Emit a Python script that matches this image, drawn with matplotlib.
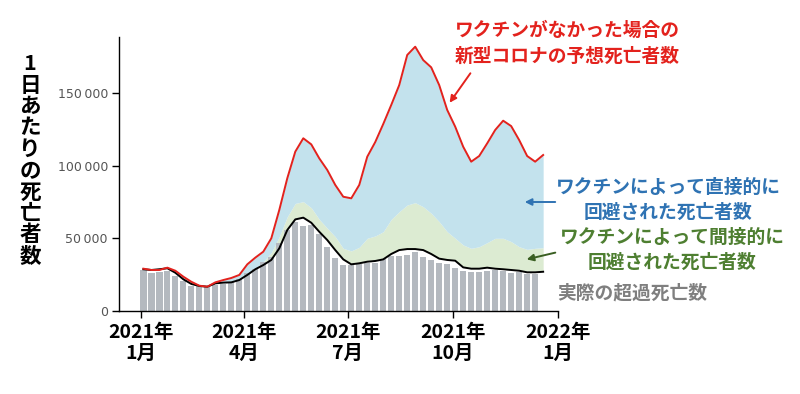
import numpy as np
import pandas as pd
import matplotlib
matplotlib.use("Agg")
import matplotlib.pyplot as plt
import matplotlib.dates as mdates

plt.rcParams['font.family'] = ['Noto Sans CJK JP', 'DejaVu Sans']

# weekly actual excess deaths (bars)
excess_bars = [28200, 26300, 27000, 27700, 24000, 20600, 17400, 17200, 16700, 17900,
               18300, 20100, 21800, 26300, 28700, 33900, 37300, 46500, 55700, 61400,
               58700, 59100, 53000, 44200, 36200, 31600, 31600, 32100, 33200, 33200,
               35500, 38000, 38000, 38500, 40800, 37300, 35100, 33200, 32100, 29800,
               27700, 27000, 27000, 27700, 28200, 27700, 26300, 27000, 25400, 25200]

# smoothed actual excess deaths (black line)
actual_line = [28700, 28200, 28700, 29400, 26300, 21800, 18600, 17200, 16700, 19000,
               19500, 19700, 21300, 24800, 28700, 31600, 35100, 43100, 55700, 63000,
               64200, 60700, 54500, 48800, 41900, 35500, 32100, 32800, 33900, 34400,
               35500, 39200, 41900, 42600, 42600, 41900, 39200, 36000, 35100, 34600,
               30000, 29100, 29100, 29800, 29100, 28700, 28200, 27700, 26600, 26600, 27000]

# actual + indirectly averted (top of green area)
indirect_top = [28700, 28200, 28700, 29400, 26300, 21800, 18600, 17200, 16700, 19000,
                19500, 19700, 21300, 25500, 29400, 33900, 40100, 51100, 64800, 74000,
                75200, 71000, 63000, 56900, 51100, 43100, 41300, 43800, 50000, 51600,
                54500, 63000, 68300, 72900, 74500, 71700, 67200, 61400, 54500, 50000,
                45400, 43100, 44200, 47000, 50000, 50000, 47700, 44200, 42400, 43100, 43500]

# expected deaths without vaccine (red line)
no_vaccine = [29100, 28200, 28200, 29800, 27700, 23600, 20100, 17400, 16700, 19700,
              21300, 22700, 24800, 32100, 36700, 40800, 50000, 69500, 91300, 109600,
              118800, 114600, 105000, 97000, 86700, 78600, 77500, 86700, 106100, 116200,
              128600, 141700, 155400, 176100, 181800, 172600, 167600, 155400, 138300, 126800,
              113000, 102700, 106600, 115300, 124500, 130900, 127200, 117600, 106600, 102700, 107300]

weeks = pd.date_range('2021-01-03', periods=len(no_vaccine), freq='7D')
bar_weeks = weeks[:len(excess_bars)]

tick_dates = pd.to_datetime(['2021-01-01', '2021-04-01', '2021-07-01', '2021-10-01', '2022-01-01'])
tick_labels = ['2021年\n1月', '2021年\n4月', '2021年\n7月', '2021年\n10月', '2022年\n1月']
y_ticks = [0, 50000, 100000, 150000]
y_labels = ['0', '50\u2009000', '100\u2009000', '150\u2009000']

fig = plt.figure(figsize=(8, 3.94), dpi=100)
ax = fig.add_axes([0.14875, 0.2107, 0.54875, 0.6955])

ax.bar(bar_weeks, excess_bars, width=5.5, color='#b4b9bf', zorder=1)
ax.fill_between(weeks, actual_line, indirect_top, color='#dcebd2', lw=0, zorder=0)
ax.fill_between(weeks, indirect_top, no_vaccine, color='#c3e2ed', lw=0, zorder=0)
ax.plot(weeks, actual_line, color='black', lw=1.4, zorder=3)
ax.plot(weeks, no_vaccine, color='#e3221d', lw=1.4, zorder=3)

ax.set_xlim(pd.Timestamp('2020-12-12 16:00'), pd.Timestamp('2022-01-01'))
ax.set_ylim(0, 188500)
ax.set_xticks(tick_dates)
ax.set_xticklabels(tick_labels, fontsize=14, fontweight='bold', linespacing=1.12)
ax.set_yticks(y_ticks)
ax.set_yticklabels(y_labels, fontsize=9, color='#555555', family=['DejaVu Sans'])
ax.tick_params(axis='both', length=5, width=1, color='black')
ax.tick_params(axis='x', pad=4)
ax.tick_params(axis='y', pad=3)
for s in ['top', 'right']:
    ax.spines[s].set_visible(False)
for s in ['left', 'bottom']:
    ax.spines[s].set_linewidth(1)

# vertical y label
fig.text(30 / 800, 1 - 160 / 394, '\n'.join('1日あたりの死亡者数'), fontsize=15.5, fontweight='bold',
         ha='center', va='center', linespacing=1.02)

def px(x, y):
    return (x / 800, 1 - y / 394)

fig.text(*px(567, 43), 'ワクチンがなかった場合の\n新型コロナの予想死亡者数', color='#e3221d',
         fontsize=13.5, fontweight='bold', ha='center', va='center', linespacing=1.45)
fig.text(*px(668, 200), 'ワクチンによって直接的に\n回避された死亡者数', color='#2f73b3',
         fontsize=13.5, fontweight='bold', ha='center', va='center', linespacing=1.35)
fig.text(*px(672, 250), 'ワクチンによって間接的に\n回避された死亡者数', color='#4e7f31',
         fontsize=13.5, fontweight='bold', ha='center', va='center', linespacing=1.35)
fig.text(*px(557, 293), '実際の超過死亡数', color='#7f7f7f',
         fontsize=13.5, fontweight='bold', ha='left', va='center')

arrow_kw = dict(arrowstyle='-|>', lw=1.4, mutation_scale=10)
fig.add_artist(matplotlib.patches.FancyArrowPatch(px(472, 71), px(448, 105), transform=fig.transFigure,
                                                  color='#e3221d', **arrow_kw))
fig.add_artist(matplotlib.patches.FancyArrowPatch(px(558, 202), px(522, 202), transform=fig.transFigure,
                                                  color='#2f73b3', **arrow_kw))
fig.add_artist(matplotlib.patches.FancyArrowPatch(px(558, 252), px(524, 260), transform=fig.transFigure,
                                                  color='#3a5f22', **arrow_kw))

fig.savefig('out.png', dpi=100)
